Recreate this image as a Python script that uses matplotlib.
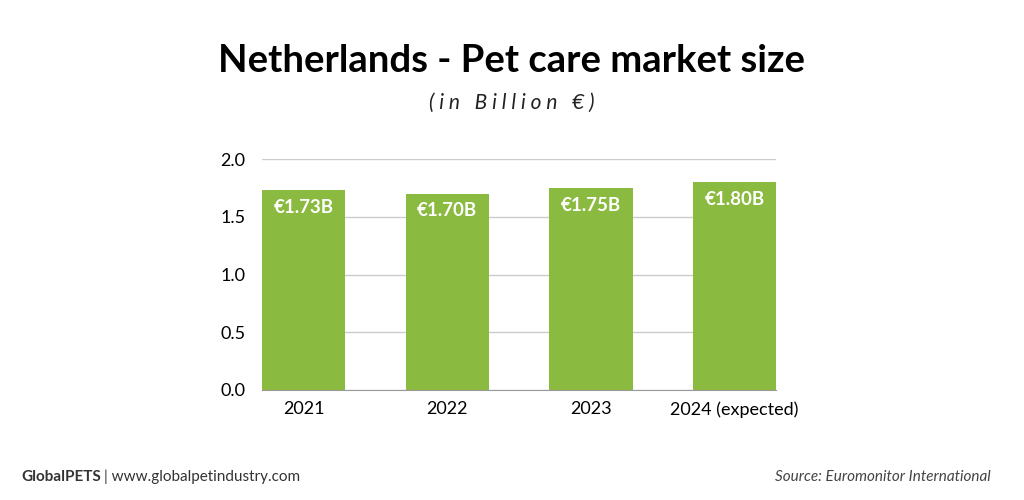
import numpy as np
import matplotlib
matplotlib.use("Agg")
import matplotlib.pyplot as plt

plt.rcParams['font.family'] = ['Lato', 'DejaVu Sans']

# data
years = ['2021', '2022', '2023', '2024 (expected)']
market_size = [1.73, 1.70, 1.75, 1.80]
value_labels = ['€1.73B', '€1.70B', '€1.75B', '€1.80B']
yticks = [0.0, 0.5, 1.0, 1.5, 2.0]

green = '#8aba3f'

fig = plt.figure(figsize=(10.24, 5.0), dpi=100)
ax = fig.add_axes([0.2559, 0.22, 0.502, 0.462])

x = np.arange(len(years))
width = 0.58
ax.bar(x, market_size, width=width, color=green, zorder=3)

for xi, v, lab in zip(x, market_size, value_labels):
    ax.text(xi, v - 0.15, lab, ha='center', va='center', color='white',
            fontsize=13.5, fontweight='bold', zorder=4)

ax.set_xlim(-width / 2, len(years) - 1 + width / 2)
ax.set_ylim(0, 2.0)
ax.set_yticks(yticks)
ax.set_yticklabels([f'{t:.1f}' for t in yticks], fontsize=13)
ax.set_xticks(x)
ax.set_xticklabels(years, fontsize=13)
ax.tick_params(axis='both', length=0, pad=12)
ax.tick_params(axis='x', pad=8)
ax.yaxis.grid(True, color='#cccccc', linewidth=1, zorder=0)
for s in ['top', 'right', 'left']:
    ax.spines[s].set_visible(False)
ax.spines['bottom'].set_color('#999999')
ax.spines['bottom'].set_zorder(5)

fig.text(0.5, 0.878, 'Netherlands - Pet care market size', ha='center', va='center',
         fontsize=27.5, fontweight='bold', color='black')
fig.text(0.5, 0.795, '( i n   B i l l i o n   € )', ha='center', va='center',
         fontsize=15, fontstyle='italic', color='#222222')

fig.text(0.021, 0.046, 'GlobalPETS', ha='left', va='center', fontsize=11,
         fontweight='bold', color='#333333')
fig.text(0.102, 0.046, '| www.globalpetindustry.com', ha='left', va='center',
         fontsize=11, color='#333333')
fig.text(0.967, 0.046, 'Source: Euromonitor International', ha='right', va='center',
         fontsize=11, fontstyle='italic', color='#444444')

fig.savefig('out.png', dpi=100, facecolor='white')
